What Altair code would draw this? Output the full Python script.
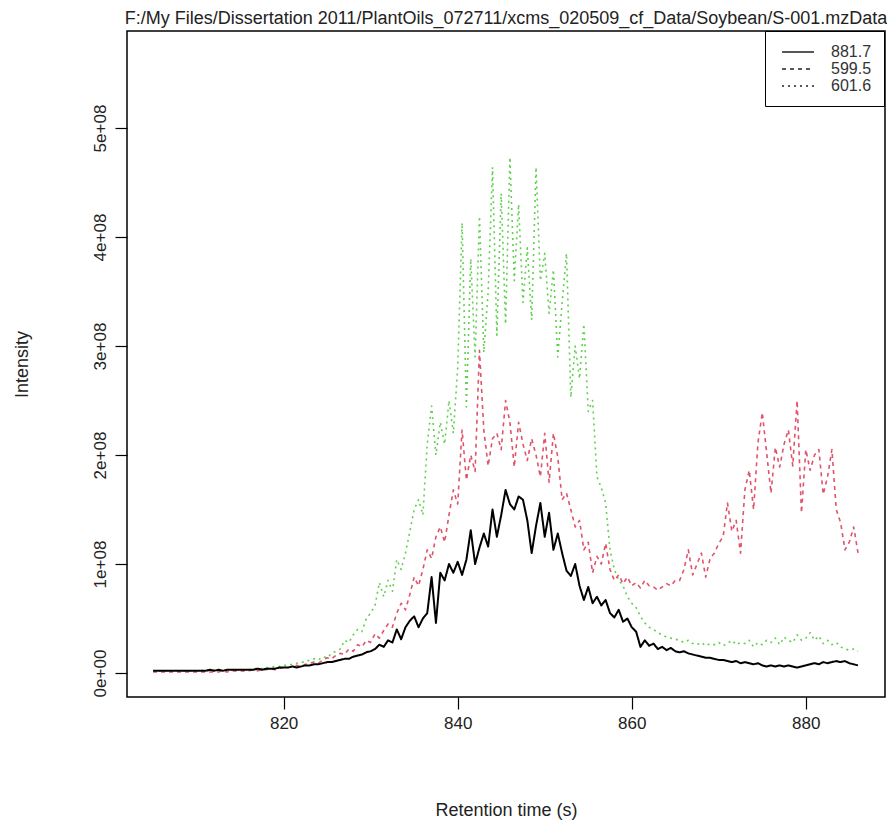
import altair as alt
import pandas as pd

TITLE = "F:/My Files/Dissertation 2011/PlantOils_072711/xcms_020509_cf_Data/Soybean/S-001.mzData"

TIME = [
    805.0, 805.5, 806.0, 806.5, 807.0, 807.5, 808.0, 808.5, 809.0, 809.5,
    810.0, 810.5, 811.0, 811.5, 812.0, 812.5, 813.0, 813.5, 814.0, 814.5, 815.0,
    815.5, 816.0, 816.5, 817.0, 817.5, 818.0, 818.5, 819.0, 819.5, 820.0,
    820.5, 821.0, 821.5, 822.0, 822.5, 823.0, 823.5, 824.0, 824.5, 825.0,
    825.5, 826.0, 826.5, 827.0, 827.5, 828.0, 828.5, 829.0, 829.5, 830.0,
    830.5, 831.0, 831.5, 832.0, 832.5, 833.0, 833.5, 834.0, 834.5, 835.0,
    835.5, 836.0, 836.5, 837.0, 837.5, 838.0, 838.5, 839.0, 839.5, 840.0,
    840.5, 841.0, 841.5, 842.0, 842.5, 843.0, 843.5, 844.0, 844.5, 845.0,
    845.5, 846.0, 846.5, 847.0, 847.5, 848.0, 848.5, 849.0, 849.5, 850.0,
    850.5, 851.0, 851.5, 852.0, 852.5, 853.0, 853.5, 854.0, 854.5, 855.0,
    855.5, 856.0, 856.5, 857.0, 857.5, 858.0, 858.5, 859.0, 859.5, 860.0,
    860.5, 861.0, 861.5, 862.0, 862.5, 863.0, 863.5, 864.0, 864.5, 865.0,
    865.5, 866.0, 866.5, 867.0, 867.5, 868.0, 868.5, 869.0, 869.5, 870.0,
    870.5, 871.0, 871.5, 872.0, 872.5, 873.0, 873.5, 874.0, 874.5, 875.0,
    875.5, 876.0, 876.5, 877.0, 877.5, 878.0, 878.5, 879.0, 879.5, 880.0,
    880.5, 881.0, 881.5, 882.0, 882.5, 883.0, 883.5, 884.0, 884.5, 885.0, 885.5, 886.0,
]

# intensities in units of 1e+08
MZ_881_7 = [
    0.02, 0.02, 0.02, 0.02, 0.02, 0.02, 0.02, 0.02, 0.02, 0.02,
    0.02, 0.02, 0.02, 0.03, 0.02, 0.03, 0.02, 0.03, 0.03, 0.03, 0.03,
    0.03, 0.03, 0.03, 0.04, 0.03, 0.04, 0.04, 0.04, 0.05, 0.05,
    0.05, 0.06, 0.05, 0.06, 0.07, 0.07, 0.08, 0.08, 0.09, 0.10,
    0.10, 0.11, 0.12, 0.13, 0.13, 0.15, 0.16, 0.17, 0.19, 0.20,
    0.22, 0.26, 0.24, 0.30, 0.28, 0.40, 0.31, 0.42, 0.48, 0.52,
    0.42, 0.50, 0.55, 0.88, 0.46, 0.92, 0.85, 1.00, 0.92, 1.02,
    0.90, 1.04, 1.31, 1.00, 1.15, 1.28, 1.16, 1.50, 1.25, 1.45,
    1.68, 1.55, 1.50, 1.62, 1.59, 1.40, 1.10, 1.35, 1.56, 1.25,
    1.47, 1.13, 1.28, 1.10, 0.94, 0.89, 1.00, 0.80, 0.67, 0.79,
    0.64, 0.70, 0.62, 0.67, 0.55, 0.51, 0.58, 0.47, 0.50, 0.42,
    0.38, 0.24, 0.30, 0.25, 0.27, 0.22, 0.24, 0.21, 0.23, 0.20,
    0.19, 0.20, 0.18, 0.17, 0.16, 0.15, 0.14, 0.14, 0.13, 0.12,
    0.12, 0.11, 0.10, 0.11, 0.09, 0.10, 0.09, 0.08, 0.09, 0.07,
    0.06, 0.07, 0.06, 0.07, 0.06, 0.07, 0.06, 0.05, 0.06, 0.07,
    0.08, 0.09, 0.08, 0.10, 0.09, 0.10, 0.11, 0.10, 0.11, 0.09, 0.08, 0.07,
]

MZ_599_5 = [
    0.01, 0.01, 0.01, 0.01, 0.01, 0.01, 0.01, 0.01, 0.01, 0.01,
    0.01, 0.01, 0.01, 0.01, 0.01, 0.01, 0.02, 0.01, 0.02, 0.02, 0.02,
    0.02, 0.02, 0.03, 0.02, 0.03, 0.03, 0.04, 0.03, 0.04, 0.05,
    0.05, 0.06, 0.07, 0.06, 0.08, 0.09, 0.10, 0.09, 0.12, 0.14,
    0.13, 0.16, 0.18, 0.17, 0.22, 0.20, 0.26, 0.24, 0.30, 0.28,
    0.36, 0.32, 0.39, 0.45, 0.42, 0.55, 0.64, 0.58, 0.72, 0.88,
    0.80, 0.95, 1.13, 1.05, 1.25, 1.34, 1.20, 1.45, 1.68, 1.55,
    2.23, 1.77, 2.00, 1.85, 2.96, 2.23, 1.90, 2.15, 2.20, 2.05,
    2.50, 2.30, 1.89, 2.30, 2.10, 1.95, 2.15, 2.00, 1.80, 2.20,
    1.75, 2.20, 1.98, 1.59, 1.65, 1.50, 1.34, 1.40, 1.13, 1.20,
    0.92, 1.07, 1.00, 1.19, 0.95, 0.85, 0.90, 0.82, 0.88, 0.80,
    0.83, 0.78, 0.85, 0.80, 0.79, 0.76, 0.79, 0.82, 0.80, 0.85,
    0.85, 0.95, 1.13, 0.90, 1.00, 1.10, 0.88, 1.05, 1.10, 1.19,
    1.25, 1.56, 1.30, 1.40, 1.10, 1.68, 1.86, 1.50, 2.11, 2.39,
    2.02, 1.65, 2.07, 1.89, 2.10, 2.23, 1.90, 2.50, 1.47, 2.05,
    1.86, 2.00, 2.05, 1.64, 1.80, 2.05, 1.50, 1.38, 1.13, 1.20, 1.34, 1.10,
]

MZ_601_6 = [
    0.02, 0.02, 0.02, 0.02, 0.02, 0.02, 0.02, 0.02, 0.02, 0.02,
    0.02, 0.02, 0.03, 0.02, 0.03, 0.03, 0.03, 0.03, 0.03, 0.03, 0.03,
    0.03, 0.03, 0.04, 0.04, 0.04, 0.05, 0.05, 0.06, 0.06, 0.07,
    0.07, 0.08, 0.09, 0.10, 0.10, 0.12, 0.13, 0.12, 0.15, 0.14,
    0.18, 0.20, 0.22, 0.30, 0.28, 0.35, 0.40, 0.38, 0.50, 0.55,
    0.62, 0.83, 0.70, 0.85, 0.75, 1.04, 0.95, 1.10, 1.30, 1.50,
    1.59, 1.45, 2.10, 2.45, 2.00, 2.30, 2.10, 2.50, 2.20, 2.80,
    4.13, 2.44, 3.80, 2.90, 4.19, 2.94, 3.50, 4.64, 3.10, 4.40,
    3.20, 4.73, 3.60, 4.30, 3.40, 3.90, 3.24, 4.64, 3.60, 3.85,
    3.30, 3.70, 2.90, 3.40, 3.85, 2.53, 3.00, 2.70, 3.20, 2.40,
    2.50, 1.80, 1.70, 1.56, 1.13, 0.95, 0.85, 0.80, 0.70, 0.64,
    0.60, 0.52, 0.46, 0.42, 0.40, 0.37, 0.35, 0.33, 0.32, 0.31,
    0.30, 0.28, 0.30, 0.27, 0.26, 0.28, 0.25, 0.27, 0.26, 0.28,
    0.25, 0.27, 0.30, 0.26, 0.28, 0.27, 0.30, 0.24, 0.28, 0.26,
    0.30, 0.28, 0.32, 0.26, 0.33, 0.30, 0.28, 0.35, 0.30, 0.32,
    0.37, 0.30, 0.34, 0.27, 0.30, 0.26, 0.28, 0.24, 0.22, 0.21, 0.22, 0.20,
]

SERIES = ["881.7", "599.5", "601.6"]
COLORS = ["#000000", "#DF536B", "#61D04F"]
DASHES = [[1, 0], [4, 4], [2, 4]]
WIDTHS = [2.0, 1.6, 1.6]
X_TICKS = [820, 840, 860, 880]
Y_TICKS = [0, 1e8, 2e8, 3e8, 4e8, 5e8]

rows = []
for name, vals in zip(SERIES, [MZ_881_7, MZ_599_5, MZ_601_6]):
    for t, v in zip(TIME, vals):
        rows.append({"time": t, "intensity": v * 1e8, "mz": name})
df = pd.DataFrame(rows)

FONT = "Liberation Sans, Arial, sans-serif"

x_enc = alt.X(
    "time:Q",
    scale=alt.Scale(domain=[802.0, 889.1], nice=False, zero=False),
    axis=alt.Axis(
        values=X_TICKS, title="Retention time (s)", format="d",
        titleX=379, titleY=113, titleBaseline="middle",
    ),
)
y_enc = alt.Y(
    "intensity:Q",
    scale=alt.Scale(domain=[-0.22e8, 5.89e8], nice=False, zero=False),
    axis=alt.Axis(
        values=Y_TICKS, title="Intensity",
        labelAngle=270, labelAlign="center", labelBaseline="bottom",
        labelExpr="datum.value == 0 ? '0e+00' : format(datum.value / 1e8, 'd') + 'e+08'",
        titleX=-105, titleY=333, titleBaseline="middle", titleAngle=270,
    ),
)
dash_enc = alt.StrokeDash(
    "mz:N",
    scale=alt.Scale(domain=SERIES, range=DASHES),
    legend=alt.Legend(
        title=None, orient="none", legendX=638, legendY=0,
        strokeColor="black", fillColor="white", padding=12, cornerRadius=0,
        symbolType="M-2,0H2", symbolSize=256, symbolStrokeWidth=1.6,
        symbolStrokeColor="#222222", symbolFillColor="transparent",
        symbolOffset=12,
        labelFont=FONT, labelFontSize=16, labelColor="#333333",
        labelOffset=24, rowPadding=0,
    ),
)

layers = []
for s, c, w in [("601.6", COLORS[2], WIDTHS[2]), ("599.5", COLORS[1], WIDTHS[1]), ("881.7", COLORS[0], WIDTHS[0])]:
    layers.append(
        alt.Chart(df)
        .transform_filter(alt.datum.mz == s)
        .mark_line(clip=True, strokeCap="butt", strokeJoin="round", color=c, strokeWidth=w)
        .encode(x=x_enc, y=y_enc, strokeDash=dash_enc, order=alt.Order("time:Q"))
    )

chart = alt.layer(*layers).properties(
    width=758,
    height=666,
    padding={"left": 127, "top": 31, "right": 2, "bottom": 128},
    autosize=alt.AutoSizeParams(type="none"),
    title=alt.TitleParams(
        TITLE, font=FONT, fontSize=18, fontWeight="normal", color="#222222",
        anchor="middle", offset=3, frame="group",
    ),
    background="white",
).configure_view(
    stroke="black", strokeWidth=1.5,
).configure_axis(
    domain=False, grid=False, ticks=True, tickColor="black", tickSize=12,
    tickWidth=1.2, labelFont=FONT, labelFontSize=17, labelColor="#222222",
    labelPadding=6, titleFont=FONT, titleFontSize=18, titleFontWeight="normal",
    titleColor="#222222",
)

chart.save("out.html", embed_options={"renderer": "svg", "actions": False})
